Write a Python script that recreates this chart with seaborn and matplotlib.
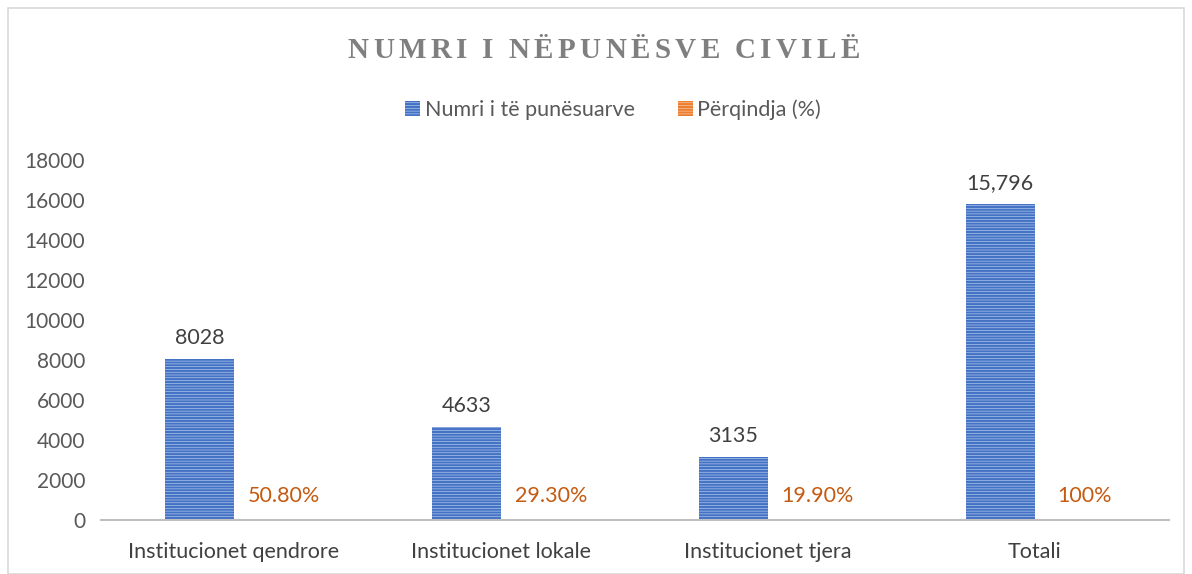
import matplotlib
matplotlib.use("Agg")
import matplotlib.pyplot as plt
import seaborn as sns
import pandas as pd
from matplotlib.patches import Rectangle, Patch

categories = ["Institucionet qendrore", "Institucionet lokale", "Institucionet tjera", "Totali"]
series_names = ["Numri i të punësuarve", "Përqindja (%)"]
employees = [8028, 4633, 3135, 15796]
share = [0.508, 0.293, 0.199, 1.0]
employee_labels = ["8028", "4633", "3135", "15,796"]
share_labels = ["50.80%", "29.30%", "19.90%", "100%"]
yticks = [0, 2000, 4000, 6000, 8000, 10000, 12000, 14000, 16000, 18000]
title = "NUMRI I NËPUNËSVE CIVILË"

sns.set_theme(style="white")
plt.rcParams['font.family'] = ['Lato', 'DejaVu Sans']
plt.rcParams['hatch.linewidth'] = 1.6

df = pd.DataFrame({
    "cat": categories * 2,
    "series": [series_names[0]] * 4 + [series_names[1]] * 4,
    "value": employees + share,
})

W, H = 1192, 574
fig = plt.figure(figsize=(W / 100, H / 100), dpi=100)
ax = fig.add_axes([100.5 / W, 1 - 520 / H, 1068 / W, 360 / H])

blue = "#4472C4"
orange = "#ED7D31"
sns.barplot(data=df, x="cat", y="value", hue="series", order=categories,
            hue_order=series_names, palette=[blue, orange], width=0.52,
            ax=ax, legend=False, saturation=1)

for patch in ax.patches:
    fc = patch.get_facecolor()
    patch.set_hatch("------")
    patch.set_edgecolor(fc)
    patch.set_facecolor((0.78, 0.85, 0.96))
    patch.set_linewidth(0)

ax.set_ylim(0, 18000)
ax.set_xlim(-0.5, 3.5)
ax.set_yticks(yticks)
ax.set_yticklabels([str(t) for t in yticks], fontsize=15, color="#595959")
ax.tick_params(axis="x", labelsize=15.5, labelcolor="#404040", length=0, pad=16)
ax.tick_params(axis="y", length=0, pad=11)
ax.set_xlabel("")
ax.set_ylabel("")
for s in ["top", "right", "left"]:
    ax.spines[s].set_visible(False)
ax.spines["bottom"].set_color("#BFBFBF")
ax.spines["bottom"].set_linewidth(1.5)

containers = ax.containers
ax.bar_label(containers[0], labels=employee_labels, padding=8, fontsize=15.5, color="#404040")
for patch, lab in zip(containers[1], share_labels):
    ax.annotate(lab, (patch.get_x() + patch.get_width() / 2, patch.get_height()),
                xytext=(15, 14), textcoords="offset pixels", ha="center", va="bottom",
                fontsize=15.5, color="#C55A11")

# title with letter tracking
renderer = fig.canvas.get_renderer()
tfont = dict(fontsize=21, fontweight="bold", color="#7F7F7F",
             family=["Liberation Serif", "DejaVu Serif"])
widths = []
for ch in title:
    if ch == " ":
        widths.append(None)
        continue
    t = fig.text(0, 0, ch, **tfont)
    widths.append(t.get_window_extent(renderer).width)
    t.remove()
space_w = 6.0
n_letters = sum(1 for w in widths if w is not None)
letters_w = sum(w for w in widths if w is not None)
n_spaces = len(title) - n_letters
target_w = 512
tracking = (target_w - letters_w - n_spaces * space_w) / (len(title) - 1)
x = 604 - target_w / 2
yt = 1 - 50 / H
for ch, w in zip(title, widths):
    if w is None:
        x += space_w + tracking
        continue
    fig.text(x / W, yt, ch, ha="left", va="center", **tfont)
    x += w + tracking

handles = [Patch(facecolor=(0.78, 0.85, 0.96), edgecolor=blue, hatch="------", linewidth=0),
           Patch(facecolor=(0.98, 0.85, 0.75), edgecolor=orange, hatch="------", linewidth=0)]
fig.legend(handles, series_names, loc="center", bbox_to_anchor=(613 / W, 1 - 110 / H),
           ncol=2, frameon=False, fontsize=15.5, labelcolor="#595959",
           handlelength=0.7, handleheight=0.7, handletextpad=0.2, columnspacing=2.0)

fig.patches.append(Rectangle((8 / W, 0), 1 - 16 / W, 1 - 8 / H, transform=fig.transFigure,
                             fill=False, edgecolor="#D9D9D9", linewidth=1.2))

fig.savefig("out.png", dpi=100)
